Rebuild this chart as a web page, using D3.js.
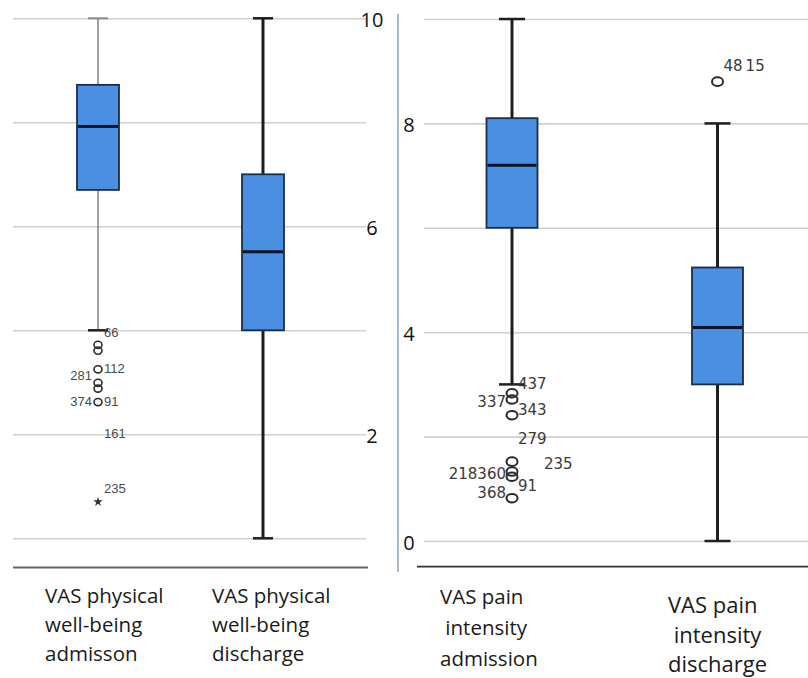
<!DOCTYPE html>
<html>
<head>
<meta charset="utf-8">
<script src="https://cdn.jsdelivr.net/npm/d3@7"></script>
<style>
  html, body { margin: 0; padding: 0; background: #fff; }
  svg { display: block; }
</style>
</head>
<body>
<svg id="chart" width="808" height="678"></svg>
<script>
// ---------------- DATA ----------------
const physCategories = ["VAS physical well-being admisson", "VAS physical well-being discharge"];
const painCategories = ["VAS pain intensity admission", "VAS pain intensity discharge"];
const physLabelLines = [["VAS physical", "well-being", "admisson"], ["VAS physical", "well-being", "discharge"]];
const painLabelLines = [["VAS pain", " intensity", "admission"], ["VAS pain", " intensity", "discharge"]];

const physWhiskerLow  = [4.0, 0.0];
const physQ1          = [6.70, 4.0];
const physMedian      = [7.92, 5.51];
const physQ3          = [8.72, 7.0];
const physWhiskerHigh = [10, 10];

const painWhiskerLow  = [3.0, 0.0];
const painQ1          = [6.0, 3.0];
const painMedian      = [7.20, 4.09];
const painQ3          = [8.10, 5.24];
const painWhiskerHigh = [10, 8];

// outliers: [category index, value]
const physOutliers = [[0, 3.72], [0, 3.61], [0, 3.25], [0, 2.99], [0, 2.88], [0, 2.62]];
const physExtremes = [[0, 0.70]];
// outlier case labels: [category index, value, text, side (-1 left, 1 right, 2 far right)]
const physOutlierLabels = [
  [0, 3.97, "66", 1], [0, 3.27, "112", 1], [0, 3.14, "281", -1],
  [0, 2.63, "374", -1], [0, 2.63, "91", 1], [0, 2.02, "161", 1], [0, 0.96, "235", 1]
];
const painOutliers = [[0, 2.83], [0, 2.71], [0, 2.41], [0, 1.52], [0, 1.33], [0, 1.23], [0, 0.82], [1, 8.80]];
const painOutlierLabels = [
  [0, 3.02, "437", 1], [0, 2.67, "337", -1], [0, 2.51, "343", 1], [0, 1.97, "279", 1],
  [0, 1.475, "235", 2], [0, 1.30, "218360", -1], [0, 1.06, "91", 1], [0, 0.925, "368", -1],
  [1, 9.10, "48\u200915", 1]
];

const gridTicks  = [0, 2, 4, 6, 8, 10];
const leftTicks  = [10, 6, 2];
const rightTicks = [8, 4, 0];

// ---------------- DRAW ----------------
const svg = d3.select("#chart");
const BLUE = "#4b8fe2", BORDER = "#1b2e48", MED = "#081428";

function panel(cfg) {
  const g = svg.append("g");
  const y = d3.scaleLinear().domain([0, 10]).range(cfg.yRange);
  const x = d3.scalePoint().domain(cfg.categories).range(cfg.xCenters);
  const xl = d3.scalePoint().domain(cfg.categories).range(cfg.labelStarts);

  // gridlines
  const grid = d3.axisLeft(y).tickValues(gridTicks).tickSize(cfg.gridX[1] - cfg.gridX[0]).tickFormat("");
  const gg = g.append("g").attr("transform", `translate(${cfg.gridX[1]},0)`).call(grid);
  gg.select(".domain").remove();
  gg.selectAll(".tick line").attr("stroke", "#cfcfcf").attr("stroke-width", 1.6);

  // tick labels
  const ax = d3.axisRight(y).tickValues(cfg.ticks).tickSize(0).tickPadding(0);
  const ag = g.append("g").attr("transform", `translate(${cfg.tickX},0)`).call(ax);
  ag.select(".domain").remove();
  ag.selectAll(".tick text")
    .attr("text-anchor", "middle").attr("x", 0).attr("dy", "0.42em")
    .style("font-family", "'Open Sans', sans-serif").style("font-size", "20px").attr("fill", "#111");

  // bottom axis line
  g.append("line").attr("x1", cfg.baseX[0]).attr("x2", cfg.baseX[1])
    .attr("y1", cfg.baseY).attr("y2", cfg.baseY)
    .attr("stroke", cfg.baseColor).attr("stroke-width", 1.8);

  const d = cfg.categories.map((c, i) => ({
    c, i, lo: cfg.lo[i], q1: cfg.q1[i], med: cfg.med[i], q3: cfg.q3[i], hi: cfg.hi[i]
  }));
  const bw = cfg.boxWidth, cw = cfg.capWidth;
  const boxes = g.selectAll(".box").data(d).join("g").attr("class", "box");
  // whiskers
  boxes.append("line")
    .attr("x1", e => x(e.c)).attr("x2", e => x(e.c))
    .attr("y1", e => y(e.q3)).attr("y2", e => y(e.hi))
    .attr("stroke", e => cfg.whiskerColor[e.i]).attr("stroke-width", e => cfg.whiskerWidth[e.i]);
  boxes.append("line")
    .attr("x1", e => x(e.c)).attr("x2", e => x(e.c))
    .attr("y1", e => y(e.q1)).attr("y2", e => y(e.lo))
    .attr("stroke", e => cfg.whiskerColor[e.i]).attr("stroke-width", e => cfg.whiskerWidth[e.i]);
  // caps
  boxes.append("line")
    .attr("x1", e => x(e.c) - cw / 2).attr("x2", e => x(e.c) + cw / 2)
    .attr("y1", e => y(e.hi)).attr("y2", e => y(e.hi))
    .attr("stroke", e => cfg.whiskerColor[e.i]).attr("stroke-width", e => Math.max(2, cfg.whiskerWidth[e.i] - 0.5));
  boxes.append("line")
    .attr("x1", e => x(e.c) - cw / 2).attr("x2", e => x(e.c) + cw / 2)
    .attr("y1", e => y(e.lo)).attr("y2", e => y(e.lo))
    .attr("stroke", "#222").attr("stroke-width", 2.5);
  // box
  boxes.append("rect")
    .attr("x", e => x(e.c) - bw / 2).attr("width", bw)
    .attr("y", e => y(e.q3)).attr("height", e => y(e.q1) - y(e.q3))
    .attr("fill", BLUE).attr("stroke", BORDER).attr("stroke-width", 1.8);
  // median
  boxes.append("line")
    .attr("x1", e => x(e.c) - bw / 2 + 1).attr("x2", e => x(e.c) + bw / 2 - 1)
    .attr("y1", e => y(e.med)).attr("y2", e => y(e.med))
    .attr("stroke", MED).attr("stroke-width", 3);

  // outliers
  g.selectAll(".out").data(cfg.outliers).join("ellipse")
    .attr("cx", o => x(cfg.categories[o[0]])).attr("cy", o => y(o[1]))
    .attr("rx", cfg.outRx).attr("ry", cfg.outRy)
    .attr("fill", "none").attr("stroke", "#2a2a2a").attr("stroke-width", cfg.outStroke);
  g.selectAll(".ext").data(cfg.extremes || []).join("path")
    .attr("transform", o => `translate(${x(cfg.categories[o[0]])},${y(o[1])})`)
    .attr("d", d3.symbol(d3.symbolStar, 28)).attr("fill", "#333");
  // outlier labels
  g.selectAll(".olab").data(cfg.outLabels).join("text")
    .attr("x", o => {
      const cx = x(cfg.categories[o[0]]);
      if (o[3] === -1) return cx - cfg.labGap;
      if (o[3] === 2) return cx + cfg.farGap;
      return cx + cfg.labGap;
    })
    .attr("y", o => y(o[1])).attr("dy", "0.36em")
    .attr("text-anchor", o => o[3] === -1 ? "end" : "start")
    .style("font-family", cfg.labFont).style("font-size", cfg.labSize + "px")
    .attr("fill", cfg.labColor)
    .text(o => o[2]);

  // category labels
  cfg.labelLines.forEach((lines, i) => {
    const t = g.append("text")
      .attr("x", xl(cfg.categories[i]))
      .attr("y", cfg.labelBase[i])
      .style("font-family", "'Open Sans', sans-serif")
      .style("font-size", cfg.labelSize[i] + "px")
      .attr("fill", "#1a1a1a")
      .attr("xml:space", "preserve");
    lines.forEach((ln, k) => {
      t.append("tspan").attr("x", xl(cfg.categories[i]))
        .attr("y", cfg.labelBase[i] + k * cfg.labelLH[i]).text(ln);
    });
  });
}

panel({
  categories: physCategories, labelLines: physLabelLines,
  yRange: [538.3, 18.3], xCenters: [98, 263], labelStarts: [45, 212],
  gridX: [13, 366], tickX: 372, ticks: leftTicks,
  baseX: [13, 368], baseY: 567.5, baseColor: "#666",
  lo: physWhiskerLow, q1: physQ1, med: physMedian, q3: physQ3, hi: physWhiskerHigh,
  boxWidth: 42, capWidth: 20,
  whiskerColor: ["#8a8a8a", "#1e1e1e"], whiskerWidth: [1.6, 3],
  outliers: physOutliers, extremes: physExtremes, outLabels: physOutlierLabels,
  outRx: 4, outRy: 3.6, outStroke: 1.6,
  labGap: 6, farGap: 30, labFont: "'Liberation Sans', Arial, sans-serif", labSize: 13, labColor: "#4a4a4a",
  labelBase: [603, 603], labelLH: [29, 29], labelSize: [20.5, 20.5]
});

panel({
  categories: painCategories, labelLines: painLabelLines,
  yRange: [541, 19], xCenters: [512, 717.5], labelStarts: [440, 668],
  gridX: [424, 808], tickX: 409, ticks: rightTicks,
  baseX: [417, 808], baseY: 566.7, baseColor: "#333",
  lo: painWhiskerLow, q1: painQ1, med: painMedian, q3: painQ3, hi: painWhiskerHigh,
  boxWidth: 51, capWidth: 26,
  whiskerColor: ["#1e1e1e", "#1e1e1e"], whiskerWidth: [3, 3],
  outliers: painOutliers, extremes: [], outLabels: painOutlierLabels,
  outRx: 5.5, outRy: 4.3, outStroke: 2,
  labGap: 6, farGap: 32, labFont: "'DejaVu Sans', sans-serif", labSize: 15, labColor: "#3a3a3a",
  labelBase: [604, 613], labelLH: [31, 29.5], labelSize: [20.5, 22]
});

// separator between the two panels
svg.append("line").attr("x1", 398).attr("x2", 398).attr("y1", 14).attr("y2", 572)
  .attr("stroke", "#8ea2b2").attr("stroke-width", 1.5);
</script>
</body>
</html>
